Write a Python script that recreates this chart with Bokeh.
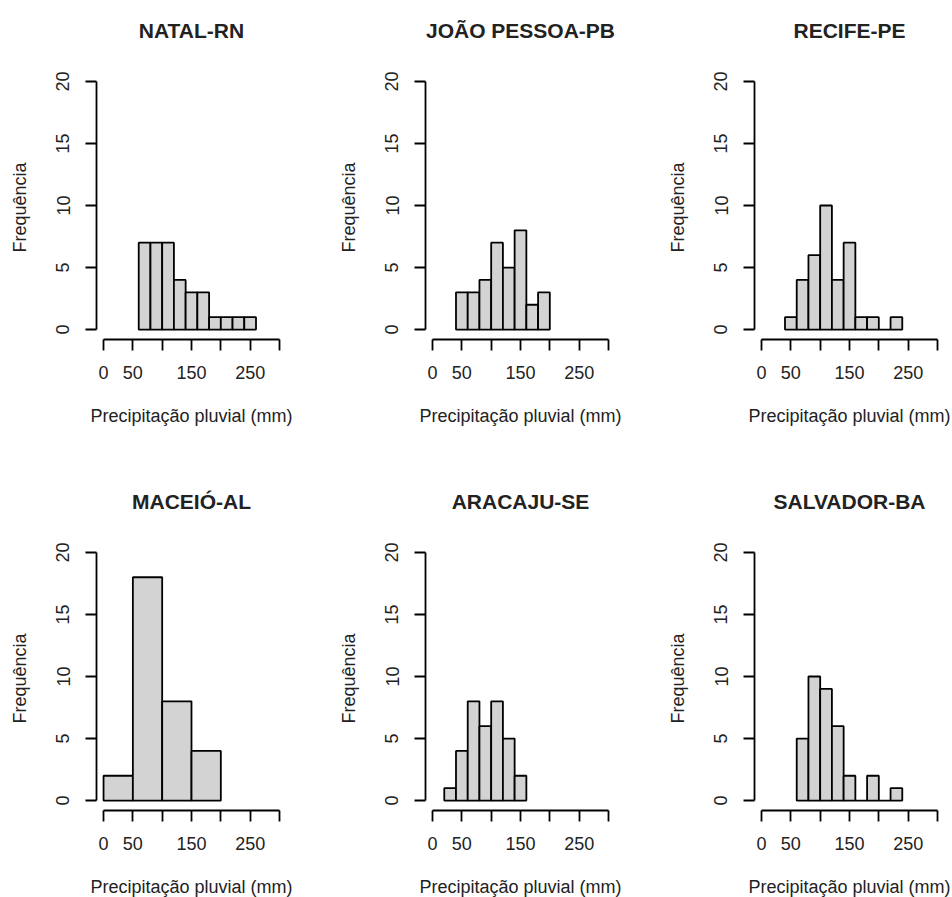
import math
from bokeh.plotting import figure
from bokeh.models import Range1d, FixedTicker, Label
from bokeh.layouts import row, column
from bokeh.embed import file_html
from bokeh.resources import INLINE

# ---- data ----
cities = ["NATAL-RN", "JOÃO PESSOA-PB", "RECIFE-PE", "MACEIÓ-AL", "ARACAJU-SE", "SALVADOR-BA"]

natal_edges = [60, 80, 100, 120, 140, 160, 180, 200, 220, 240, 260]
natal_counts = [7, 7, 7, 4, 3, 3, 1, 1, 1, 1]

jp_edges = [40, 60, 80, 100, 120, 140, 160, 180, 200]
jp_counts = [3, 3, 4, 7, 5, 8, 2, 3]

recife_edges = [40, 60, 80, 100, 120, 140, 160, 180, 200, 220, 240]
recife_counts = [1, 4, 6, 10, 4, 7, 1, 1, 0, 1]

maceio_edges = [0, 50, 100, 150, 200]
maceio_counts = [2, 18, 8, 4]

aracaju_edges = [20, 40, 60, 80, 100, 120, 140, 160]
aracaju_counts = [1, 4, 8, 6, 8, 5, 2]

salvador_edges = [60, 80, 100, 120, 140, 160, 180, 200, 220, 240]
salvador_counts = [5, 10, 9, 6, 2, 0, 2, 0, 1]

x_ticks = [0, 50, 100, 150, 200, 250, 300]
x_tick_labels = ["0", "50", "", "150", "", "250", ""]
y_ticks = [0, 5, 10, 15, 20]
y_tick_labels = ["0", "5", "10", "15", "20"]

x_label = "Precipitação pluvial (mm)"
y_label = "Frequência"

# ---- styling / layout (pixels inside one panel) ----
FONT = "Liberation Sans"
TEXT = "#222222"
X_LO, X_HI = -12, 312      # R-style 4 % padding around 0..300
Y_LO, Y_HI = -0.8, 20.8    # R-style 4 % padding around 0..20
PLOT_L, PLOT_T = 96, 71    # plotting-area position inside a panel
PLOT_W, PLOT_H = 190, 268
TITLE_Y = 30               # title centre (px from panel top)
YLAB_X, YLAB_Y = 19.5, 207  # y-label centre
XLAB_DY = 76               # x-label centre below plotting area


def make_panel(title, edges, counts, width, height):
    kx = (X_HI - X_LO) / PLOT_W
    ky = (Y_HI - Y_LO) / PLOT_H

    def dx(px):
        return X_LO + (px - PLOT_L) * kx

    def dy(py):
        return Y_HI - (py - PLOT_T) * ky

    # the frame spans the whole panel; axes are pinned at the plotting-area edges
    p = figure(width=width, height=height,
               x_range=Range1d(dx(0), dx(width)), y_range=Range1d(dy(height), dy(0)),
               output_backend="svg", toolbar_location=None,
               min_border=0, min_border_left=0, min_border_right=0,
               min_border_top=0, min_border_bottom=0,
               background_fill_color="white", border_fill_color="white")
    p.outline_line_color = None
    p.xgrid.visible = False
    p.ygrid.visible = False

    p.quad(left=edges[:-1], right=edges[1:], top=counts, bottom=0,
           fill_color="#d3d3d3", line_color="black", line_width=1.8)

    for ax in (p.xaxis[0], p.yaxis[0]):
        ax.axis_line_width = 1.8
        ax.major_tick_line_width = 1.8
        ax.major_tick_in = 0
        ax.major_tick_out = 11
        ax.minor_tick_line_color = None
        ax.major_label_text_font = FONT
        ax.major_label_text_font_size = "18px"
        ax.major_label_text_color = TEXT

    xa = p.xaxis[0]
    xa.fixed_location = Y_LO
    xa.bounds = (x_ticks[0], x_ticks[-1])
    xa.ticker = FixedTicker(ticks=x_ticks)
    xa.major_label_overrides = {t: l for t, l in zip(x_ticks, x_tick_labels)}
    xa.major_label_standoff = 15

    ya = p.yaxis[0]
    ya.fixed_location = X_LO
    ya.bounds = (y_ticks[0], y_ticks[-1])
    ya.ticker = FixedTicker(ticks=y_ticks)
    ya.major_label_overrides = {t: l for t, l in zip(y_ticks, y_tick_labels)}
    ya.major_label_orientation = "vertical"
    ya.major_label_standoff = 16

    cx = PLOT_L + PLOT_W / 2
    p.add_layout(Label(x=dx(cx), y=dy(TITLE_Y), text=title,
                       text_align="center", text_baseline="middle",
                       text_font=FONT, text_font_size="21px",
                       text_font_style="bold", text_color=TEXT))
    p.add_layout(Label(x=dx(cx), y=dy(PLOT_T + PLOT_H + XLAB_DY), text=x_label,
                       text_align="center", text_baseline="middle",
                       text_font=FONT, text_font_size="18px", text_color=TEXT))
    p.add_layout(Label(x=dx(YLAB_X), y=dy(YLAB_Y), text=y_label, angle=math.pi / 2,
                       text_align="center", text_baseline="middle",
                       text_font=FONT, text_font_size="18px", text_color=TEXT))
    return p


W = [329, 329, 294]
H = [471, 426]

data = [(natal_edges, natal_counts), (jp_edges, jp_counts), (recife_edges, recife_counts),
        (maceio_edges, maceio_counts), (aracaju_edges, aracaju_counts), (salvador_edges, salvador_counts)]

panels = [make_panel(city, e, c, W[i % 3], H[i // 3])
          for i, (city, (e, c)) in enumerate(zip(cities, data))]

layout = column(row(*panels[:3], spacing=0), row(*panels[3:], spacing=0), spacing=0)

open("out.html", "w").write(file_html(layout, INLINE))
